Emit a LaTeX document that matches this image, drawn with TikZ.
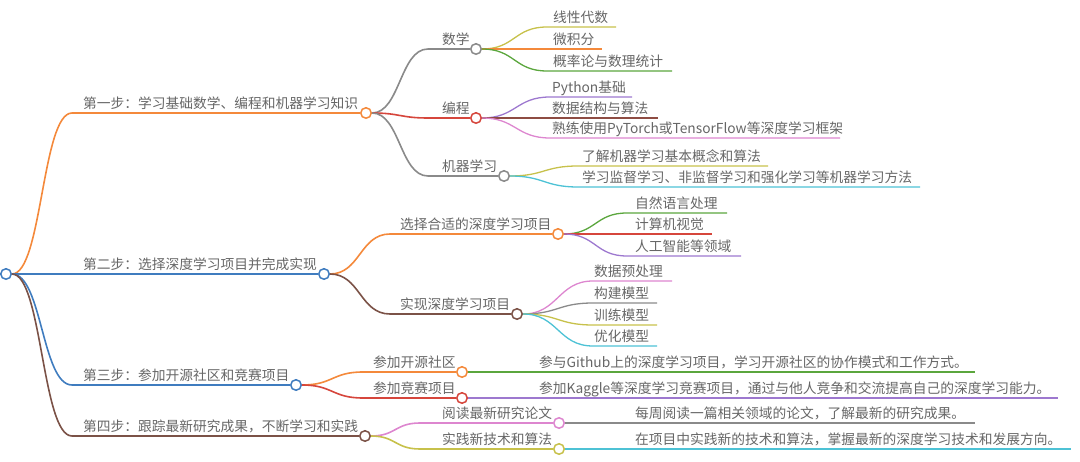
\documentclass[tikz,border=0pt]{standalone}
\usepackage{fontspec}
\newfontfamily\cjkfont{Noto Sans CJK SC}
\usepackage{tikz}
\definecolor{cblue}{HTML}{3F7CBF}
\definecolor{corange}{HTML}{F4893B}
\definecolor{cbrown}{HTML}{7B5247}
\definecolor{cgrey}{HTML}{8A8A8A}
\definecolor{cred}{HTML}{D6463C}
\definecolor{colive}{HTML}{C7C14B}
\definecolor{cgreen}{HTML}{5BA63D}
\definecolor{cpurple}{HTML}{9D78CF}
\definecolor{cmaroon}{HTML}{8E4C43}
\definecolor{cpink}{HTML}{DD86CF}
\definecolor{ccyan}{HTML}{4DC2D5}
\definecolor{txtgray}{HTML}{666666}
\tikzset{
  hub/.style={circle, draw=#1, fill=white, line width=1.5pt, minimum size=10.5pt, inner sep=0pt},
  link/.style={draw=#1, line width=1.6pt},
  twig/.style={draw=#1, line width=1.3pt},
  lbl/.style={anchor=base west, inner sep=0pt, text=txtgray, font=\cjkfont\fontsize{13.75}{16}\selectfont}
}

\begin{document}
\begin{tikzpicture}[x=1pt, y=-1pt]
                \useasboundingbox (0,0) rectangle (1080,462);
                \node[hub=cblue] (root) at (6,274) {};
                \node[hub=corange] (s1) at (366,113) {};
                \node[hub=cblue] (s2) at (324,274) {};
                \node[hub=cblue] (s3) at (296,385) {};
                \node[hub=cbrown] (s4) at (365,436) {};
                \coordinate (s1a) at (72,113);
                \coordinate (s3a) at (72,385);
                \coordinate (s4a) at (72,436);
                \draw[link=corange] (root.east) .. controls +(30,0) and +(-30,0) .. (s1a) -- (s1.west);
                \draw[link=cblue] (root.east) -- (s2.west);
                \draw[link=cblue] (root.east) .. controls +(30,0) and +(-30,0) .. (s3a) -- (s3.west);
                \draw[link=cbrown] (root.east) .. controls +(30,0) and +(-30,0) .. (s4a) -- (s4.west);
                \node[lbl] (s1t) at (83,108.5) {第一步：学习基础数学、编程和机器学习知识};
                \node[lbl] (s2t) at (83,269.5) {第二步：选择深度学习项目并完成实现};
                \node[lbl] (s3t) at (83,380.5) {第三步：参加开源社区和竞赛项目};
                \node[lbl] (s4t) at (83,431.5) {第四步：跟踪最新研究成果，不断学习和实践};

                \node[hub=cgrey] (math) at (476,49) {};
                \node[hub=cred] (prog) at (476,118) {};
                \node[hub=cgrey] (ml) at (504,176) {};
                \coordinate (matha) at (428,49);
                \coordinate (proga) at (428,118);
                \coordinate (mla) at (428,176);
                \draw[link=cgrey] (s1.east) .. controls +(28,0) and +(-28,0) .. (matha) -- (math.west);
                \draw[link=cred] (s1.east) .. controls +(28,0) and +(-28,0) .. (proga) -- (prog.west);
                \draw[link=cgrey] (s1.east) .. controls +(28,0) and +(-28,0) .. (mla) -- (ml.west);
                \node[lbl] (matht) at (442,44.5) {数学};
                \node[lbl] (progt) at (442,113.5) {编程};
                \node[lbl] (mlt) at (442,171.5) {机器学习};

                \coordinate (ma1) at (547,27); \coordinate (me1) at (616,27);
                \coordinate (ma2) at (547,49); \coordinate (me2) at (602,49);
                \coordinate (ma3) at (547,71); \coordinate (me3) at (672,71);
                \draw[twig=colive] (math.east) .. controls +(33,0) and +(-33,0) .. (ma1) -- (me1);
                \draw[twig=corange] (math.east) -- (me2);
                \draw[twig=cgreen] (math.east) .. controls +(33,0) and +(-33,0) .. (ma3) -- (me3);
                \node[lbl] (mt1) at (553,22.5) {线性代数};
                \node[lbl] (mt2) at (553,44.5) {微积分};
                \node[lbl] (mt3) at (553,66.5) {概率论与数理统计};

                \coordinate (pa1) at (550,97); \coordinate (pe1) at (632,97);
                \coordinate (pa2) at (550,118); \coordinate (pe2) at (658,118);
                \coordinate (pa3) at (550,138); \coordinate (pe3) at (840,138);
                \draw[twig=cpurple] (prog.east) .. controls +(34,0) and +(-34,0) .. (pa1) -- (pe1);
                \draw[twig=cmaroon] (prog.east) -- (pe2);
                \draw[twig=cpink] (prog.east) .. controls +(34,0) and +(-34,0) .. (pa3) -- (pe3);
                \node[lbl] (pt1) at (552,92.5) {Python基础};
                \node[lbl] (pt2) at (552,113.5) {数据结构与算法};
                \node[lbl] (pt3) at (552,133.5) {熟练使用PyTorch或TensorFlow等深度学习框架};

                \coordinate (la1) at (578,166); \coordinate (le1) at (768,166);
                \coordinate (la2) at (578,187); \coordinate (le2) at (920,187);
                \draw[twig=colive] (ml.east) .. controls +(34,0) and +(-34,0) .. (la1) -- (le1);
                \draw[twig=ccyan] (ml.east) .. controls +(34,0) and +(-34,0) .. (la2) -- (le2);
                \node[lbl] (lt1) at (582,161.5) {了解机器学习基本概念和算法};
                \node[lbl] (lt2) at (582,182.5) {学习监督学习、非监督学习和强化学习等机器学习方法};

                \node[hub=corange] (sel) at (558,234) {};
                \node[hub=cbrown] (imp) at (517,314) {};
                \coordinate (sela) at (390,234);
                \coordinate (impa) at (390,314);
                \draw[link=corange] (s2.east) .. controls +(30,0) and +(-30,0) .. (sela) -- (sel.west);
                \draw[link=cbrown] (s2.east) .. controls +(30,0) and +(-30,0) .. (impa) -- (imp.west);
                \node[lbl] (selt) at (400,229.5) {选择合适的深度学习项目};
                \node[lbl] (impt) at (400,309.5) {实现深度学习项目};

                \coordinate (sa1) at (627,213); \coordinate (se1) at (727,213);
                \coordinate (sa2) at (627,234); \coordinate (se2) at (712,234);
                \coordinate (sa3) at (627,256); \coordinate (se3) at (741,256);
                \draw[twig=cgreen] (sel.east) .. controls +(32,0) and +(-32,0) .. (sa1) -- (se1);
                \draw[twig=cred] (sel.east) -- (se2);
                \draw[twig=cpurple] (sel.east) .. controls +(32,0) and +(-32,0) .. (sa3) -- (se3);
                \node[lbl] (st1) at (635,208.5) {自然语言处理};
                \node[lbl] (st2) at (635,229.5) {计算机视觉};
                \node[lbl] (st3) at (635,251.5) {人工智能等领域};

                \coordinate (ia1) at (593,281); \coordinate (ie1) at (672,281);
                \coordinate (ia2) at (593,303); \coordinate (ie2) at (657,303);
                \coordinate (ia3) at (593,325); \coordinate (ie3) at (657,325);
                \coordinate (ia4) at (593,346); \coordinate (ie4) at (657,346);
                \draw[twig=cpink] (imp.east) .. controls +(35,0) and +(-35,0) .. (ia1) -- (ie1);
                \draw[twig=cgrey] (imp.east) .. controls +(35,0) and +(-35,0) .. (ia2) -- (ie2);
                \draw[twig=colive] (imp.east) .. controls +(35,0) and +(-35,0) .. (ia3) -- (ie3);
                \draw[twig=ccyan] (imp.east) .. controls +(35,0) and +(-35,0) .. (ia4) -- (ie4);
                \node[lbl] (it1) at (594,276.5) {数据预处理};
                \node[lbl] (it2) at (594,298.5) {构建模型};
                \node[lbl] (it3) at (594,320.5) {训练模型};
                \node[lbl] (it4) at (594,341.5) {优化模型};

                \node[hub=corange] (os) at (462,372) {};
                \node[hub=cred] (cp) at (462,398) {};
                \coordinate (osa) at (363,372);
                \coordinate (cpa) at (363,398);
                \draw[link=corange] (s3.east) .. controls +(31,0) and +(-31,0) .. (osa) -- (os.west);
                \draw[link=cred] (s3.east) .. controls +(31,0) and +(-31,0) .. (cpa) -- (cp.west);
                \node[lbl] (ost) at (373,367.5) {参加开源社区};
                \node[lbl] (cpt) at (373,393.5) {参加竞赛项目};
                \coordinate (ose) at (975,372);
                \coordinate (cpe) at (1058,398);
                \draw[twig=cgreen] (os.east) -- (ose);
                \draw[twig=cpurple] (cp.east) -- (cpe);
                \node[lbl] (oslf) at (539,367.5) {参与Github上的深度学习项目，学习开源社区的协作模式和工作方式。};
                \node[lbl] (cplf) at (539,393.5) {参加Kaggle等深度学习竞赛项目，通过与他人竞争和交流提高自己的深度学习能力。};

                \node[hub=cpink] (rd) at (559,423) {};
                \node[hub=colive] (pr) at (559,449) {};
                \coordinate (rda) at (420,423);
                \coordinate (pra) at (420,449);
                \draw[link=cpink] (s4.east) .. controls +(25,0) and +(-25,0) .. (rda) -- (rd.west);
                \draw[link=colive] (s4.east) .. controls +(25,0) and +(-25,0) .. (pra) -- (pr.west);
                \node[lbl] (rdt) at (442,418.5) {阅读最新研究论文};
                \node[lbl] (prt) at (442,444.5) {实践新技术和算法};
                \coordinate (rde) at (975,423);
                \coordinate (pre) at (1071,449);
                \draw[twig=cgrey] (rd.east) -- (rde);
                \draw[twig=ccyan] (pr.east) -- (pre);
                \node[lbl] (rdlf) at (635,418.5) {每周阅读一篇相关领域的论文，了解最新的研究成果。};
                \node[lbl] (prlf) at (635,444.5) {在项目中实践新的技术和算法，掌握最新的深度学习技术和发展方向。};
            \end{tikzpicture}
\end{document}
